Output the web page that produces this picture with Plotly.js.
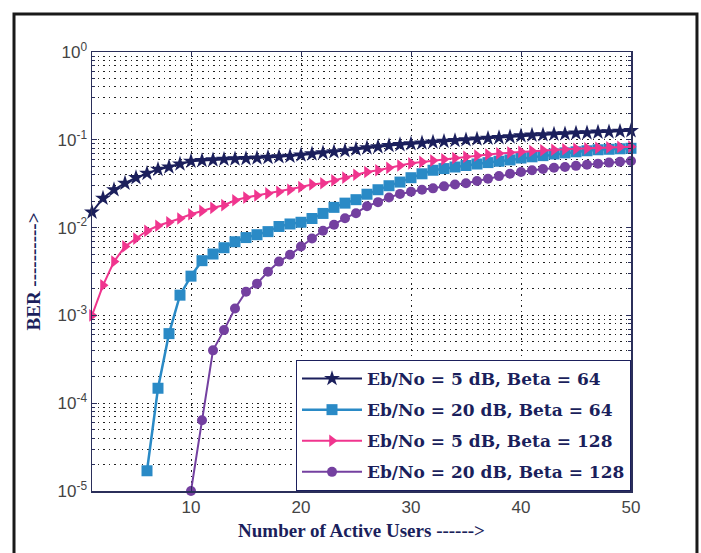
<!DOCTYPE html>
<html>
<head>
<meta charset="utf-8">
<script src="https://cdn.plot.ly/plotly-3.0.1.min.js"></script>
<style>html,body{margin:0;padding:0;background:#fff;}#chart{width:701px;height:553px;}</style>
</head>
<body>
<div id="chart"></div>
<script>
// ---- data ----
var usersA = [1,2,3,4,5,6,7,8,9,10,11,12,13,14,15,16,17,18,19,20,21,22,23,24,25,26,27,28,29,30,31,32,33,34,35,36,37,38,39,40,41,42,43,44,45,46,47,48,49,50];
var ber5dB64 = [0.015,0.0216,0.027,0.032,0.037,0.0415,0.046,0.049,0.053,0.057,0.058,0.059,0.060,0.0605,0.061,0.062,0.063,0.064,0.065,0.067,0.069,0.071,0.073,0.075,0.078,0.081,0.083,0.086,0.088,0.090,0.092,0.094,0.096,0.098,0.100,0.102,0.104,0.106,0.108,0.111,0.113,0.114,0.116,0.117,0.119,0.120,0.122,0.123,0.125,0.127];
var ber5dB128 = [0.001,0.0022,0.0041,0.0061,0.0075,0.0092,0.0105,0.0115,0.0127,0.0142,0.0155,0.0168,0.018,0.0205,0.022,0.0232,0.0245,0.0256,0.027,0.029,0.031,0.032,0.0345,0.037,0.040,0.043,0.045,0.048,0.051,0.054,0.056,0.058,0.060,0.062,0.064,0.066,0.068,0.070,0.0715,0.073,0.0745,0.076,0.077,0.078,0.079,0.080,0.081,0.082,0.083,0.0835];
var usersB = [6,7,8,9,10,11,12,13,14,15,16,17,18,19,20,21,22,23,24,25,26,27,28,29,30,31,32,33,34,35,36,37,38,39,40,41,42,43,44,45,46,47,48,49,50];
var ber20dB64 = [1.7e-5,1.48e-4,6.2e-4,1.7e-3,2.8e-3,4.2e-3,5.0e-3,5.9e-3,6.9e-3,7.7e-3,8.3e-3,9.0e-3,0.0103,0.011,0.0115,0.0127,0.0145,0.017,0.019,0.0208,0.024,0.027,0.030,0.033,0.037,0.041,0.045,0.047,0.049,0.051,0.053,0.055,0.057,0.059,0.062,0.064,0.066,0.069,0.071,0.073,0.075,0.077,0.078,0.079,0.080];
var usersC = [10,11,12,13,14,15,16,17,18,19,20,21,22,23,24,25,26,27,28,29,30,31,32,33,34,35,36,37,38,39,40,41,42,43,44,45,46,47,48,49,50];
var ber20dB128 = [1e-5,6.4e-5,4.0e-4,6.8e-4,1.2e-3,1.86e-3,2.3e-3,3.15e-3,4.1e-3,4.9e-3,6.1e-3,7.5e-3,9.2e-3,0.0108,0.0128,0.0146,0.0175,0.0195,0.022,0.0242,0.0256,0.027,0.028,0.0295,0.031,0.032,0.034,0.036,0.0386,0.041,0.043,0.045,0.0465,0.048,0.049,0.0505,0.052,0.0535,0.055,0.0563,0.0574];
var seriesNames = ['Eb/No = 5 dB, Beta = 64','Eb/No = 20 dB, Beta = 64','Eb/No = 5 dB, Beta = 128','Eb/No = 20 dB, Beta = 128'];
var yTickVals = [1e-5,1e-4,1e-3,1e-2,1e-1,1];
var yTickText = ['10<sup>-5</sup>','10<sup>-4</sup>','10<sup>-3</sup>','10<sup>-2</sup>','10<sup>-1</sup>','10<sup>0</sup>'];
var xTickVals = [10,20,30,40,50];

var navy = '#1b1f5c', blue = '#2a8ac6', pink = '#f0358e', purple = '#7440a0';

var traces = [
  {x: usersA, y: ber5dB64, name: seriesNames[0], legendgroup: 'a', mode: 'lines+markers', cliponaxis: false,
   line: {color: navy, width: 2}, marker: {symbol: 'star', size: 12, color: navy}},
  {x: usersB, y: ber20dB64, name: seriesNames[1], legendgroup: 'b', mode: 'lines+markers', cliponaxis: false,
   line: {color: blue, width: 2.5}, marker: {symbol: 'square', size: 11, color: blue}},
  {x: usersA, y: ber5dB128, name: seriesNames[2], legendgroup: 'c', mode: 'lines+markers', cliponaxis: false,
   line: {color: pink, width: 2}, marker: {symbol: 'triangle-right', size: 11, color: pink}},
  {x: usersC, y: ber20dB128, name: seriesNames[3], legendgroup: 'd', mode: 'lines+markers', cliponaxis: false,
   line: {color: purple, width: 2}, marker: {symbol: 'circle', size: 10, color: purple}}
];

var tickFont = {family: 'Liberation Sans, Arial, sans-serif', size: 17, color: '#444'};
var titleFont = {family: 'Liberation Serif, Times New Roman, serif', size: 19, color: '#1b1f5c', weight: 'bold'};

var layout = {
  width: 701, height: 553,
  margin: {l: 92, r: 70, t: 52, b: 62},
  paper_bgcolor: '#fff', plot_bgcolor: '#fff',
  showlegend: true,
  xaxis: {
    range: [1, 50], tickvals: xTickVals, ticks: 'inside', ticklen: 5, tickcolor: '#2b2f5a',
    showline: true, linecolor: '#2b2f5a', linewidth: 1.5, mirror: 'ticks',
    showgrid: true, gridcolor: '#222', gridwidth: 1, griddash: '1.5px,4px',
    zeroline: false, tickfont: tickFont,
    title: {text: 'Number of Active Users ------>', font: titleFont, standoff: 8}
  },
  yaxis: {
    type: 'log', range: [-5, 0], tickvals: yTickVals, ticktext: yTickText,
    ticks: 'inside', ticklen: 5, tickcolor: '#2b2f5a',
    showline: true, linecolor: '#2b2f5a', linewidth: 1.5, mirror: 'ticks',
    showgrid: true, gridcolor: '#222', gridwidth: 1, griddash: '1.5px,4px',
    minor: {dtick: 'D1', ticks: 'inside', ticklen: 3, tickcolor: '#2b2f5a', showgrid: true,
            gridcolor: '#222', gridwidth: 1, griddash: '1.5px,4px'},
    zeroline: false, tickfont: tickFont,
    title: {text: 'BER ---------->', font: titleFont, standoff: 12}
  },
  legend: {
    x: 1, y: 0, xanchor: 'right', yanchor: 'bottom',
    bgcolor: '#fff', bordercolor: '#1b1f5c', borderwidth: 1,
    font: {family: 'DejaVu Serif, serif', size: 17, color: '#1b1f5c', weight: 'bold'},
    itemwidth: 60, tracegroupgap: 6
  },
  shapes: [
    {type: 'rect', xref: 'paper', yref: 'paper', x0: -0.1447, x1: 1.1224, y0: -0.2, y1: 1.0866,
     line: {color: '#1a1a1a', width: 3}, fillcolor: 'rgba(0,0,0,0)', layer: 'below'}
  ]
};

Plotly.newPlot('chart', traces, layout, {displayModeBar: false, staticPlot: true});
</script>
</body>
</html>
